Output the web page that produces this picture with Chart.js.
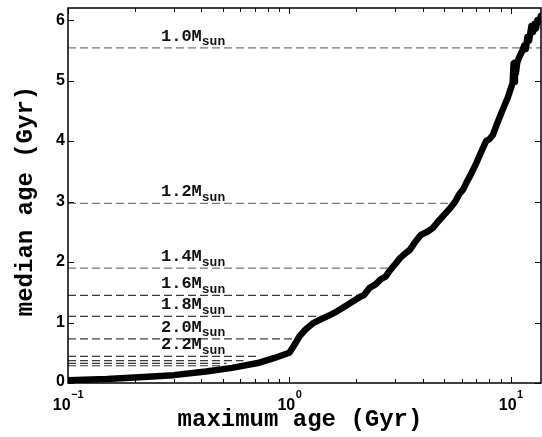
<!DOCTYPE html>
<html>
<head>
<meta charset="utf-8">
<script src="https://cdn.jsdelivr.net/npm/chart.js@4.4.0/dist/chart.umd.min.js"></script>
<style>
  html, body { margin: 0; padding: 0; background: #fff; }
</style>
</head>
<body>
<canvas id="ageChart" width="542" height="437"></canvas>
<script>
// median age vs maximum age (both Gyr)
const curveX = [0.1, 0.15, 0.2, 0.3, 0.42, 0.55, 0.72, 0.85, 1.0, 1.05, 1.11, 1.18, 1.28, 1.4, 1.52, 1.65, 1.81,
  2.0, 2.1, 2.17, 2.3, 2.45, 2.6, 2.72, 2.83, 3.0, 3.15, 3.33, 3.5, 3.7, 3.93, 4.2, 4.44, 4.7, 5.0, 5.3, 5.62,
  5.85, 6.1, 6.34, 6.65, 7.0, 7.35, 7.74, 8.0, 8.3, 8.7, 9.2, 9.7, 10.2, 10.3, 10.38, 10.45, 10.55, 10.7, 10.9,
  11.1, 11.3, 11.5, 11.7, 11.9, 12.1, 12.4, 12.6, 12.8, 13.0, 13.2, 13.45, 13.7];
const curveY = [0.045, 0.065, 0.09, 0.13, 0.19, 0.25, 0.33, 0.41, 0.5, 0.62, 0.77, 0.88, 0.99, 1.06, 1.12, 1.19, 1.28,
  1.38, 1.43, 1.45, 1.57, 1.63, 1.72, 1.76, 1.85, 1.96, 2.06, 2.14, 2.2, 2.33, 2.45, 2.5, 2.56, 2.67, 2.78, 2.88, 3.0,
  3.12, 3.2, 3.33, 3.47, 3.64, 3.82, 4.0, 4.03, 4.1, 4.3, 4.52, 4.72, 4.96, 5.28, 4.98, 5.3, 5.12, 5.3, 5.38,
  5.44, 5.5, 5.58, 5.52, 5.72, 5.66, 5.9, 5.8, 5.94, 5.86, 6.0, 5.98, 6.07];

// stellar mass reference lines
const massNames = ['1.0', '1.2', '1.4', '1.6', '1.8', '2.0', '2.2', '', '', ''];
const massLevels = [5.54, 2.97, 1.9, 1.45, 1.1, 0.73, 0.44, 0.37, 0.325, 0.285];
const massEnds = [13.7, 5.7, 2.95, 2.2, 1.5, 1.1, 0.72, 0.62, 0.52, 0.5];

const xTickPowers = [-1, 0, 1];
const yTicks = [0, 1, 2, 3, 4, 5, 6];

const X_MIN = 0.1, X_MAX = 13.7, Y_MIN = 0, Y_MAX = 6.2;

const datasets = [{
  label: 'median age',
  data: curveX.map((x, i) => ({ x: x, y: curveY[i] })),
  borderColor: '#000',
  borderWidth: 6.5,
  borderCapStyle: 'round',
  borderJoinStyle: 'round',
  pointRadius: 0,
  tension: 0,
  order: 0
}];
massLevels.forEach((lvl, i) => {
  datasets.push({
    label: massNames[i] + 'Msun',
    data: [{ x: X_MIN, y: lvl }, { x: massEnds[i], y: lvl }],
    borderColor: i < 3 ? '#7a7a7a' : '#3a3a3a',
    borderWidth: 1.2,
    borderDash: [8, 4],
    pointRadius: 0,
    order: 1
  });
});

// frame, inward ticks, tick labels, mass labels, axis titles
const decorPlugin = {
  id: 'decor',
  afterDatasetsDraw(chart) {
    const ctx = chart.ctx;
    const ys = chart.scales.y;
    ctx.save();
    ctx.fillStyle = '#111';
    ctx.textBaseline = 'alphabetic';
    ctx.textAlign = 'left';
    massLevels.forEach((lvl, i) => {
      if (!massNames[i]) return;
      const py = ys.getPixelForValue(lvl);
      const x0 = 161;
      ctx.font = 'bold 17px "Liberation Mono"';
      const main = massNames[i] + 'M';
      ctx.fillText(main, x0, py - 7);
      const w = ctx.measureText(main).width;
      ctx.font = 'bold 13px "Liberation Mono"';
      ctx.fillText('sun', x0 + w, py - 2.5);
    });
    ctx.restore();
  },
  afterDraw(chart) {
    const ctx = chart.ctx;
    const a = chart.chartArea;
    const xs = chart.scales.x, ys = chart.scales.y;
    ctx.save();
    ctx.strokeStyle = '#000';
    ctx.lineWidth = 1.5;
    ctx.strokeRect(a.left, a.top, a.right - a.left, a.bottom - a.top);

    ctx.lineWidth = 1;
    ctx.beginPath();
    xTickPowers.forEach(p => {
      for (let k = 1; k <= 9; k++) {
        const v = k * Math.pow(10, p);
        if (v < X_MIN || v > X_MAX) continue;
        const px = Math.round(xs.getPixelForValue(v)) + 0.5;
        const len = k === 1 ? 6 : 4;
        ctx.moveTo(px, a.bottom); ctx.lineTo(px, a.bottom - len);
        ctx.moveTo(px, a.top); ctx.lineTo(px, a.top + len);
      }
    });
    yTicks.forEach(v => {
      const py = Math.round(ys.getPixelForValue(v)) + 0.5;
      ctx.moveTo(a.left, py); ctx.lineTo(a.left + 6, py);
      ctx.moveTo(a.right, py); ctx.lineTo(a.right - 6, py);
    });
    ctx.stroke();

    // tick labels
    ctx.fillStyle = '#000';
    ctx.textAlign = 'right';
    ctx.textBaseline = 'middle';
    ctx.font = 'bold 16px "Liberation Sans"';
    yTicks.forEach(v => {
      ctx.fillText(String(v), a.left - 3, ys.getPixelForValue(v) + (v === 0 ? -1 : 0));
    });
    ctx.textAlign = 'left';
    ctx.textBaseline = 'alphabetic';
    xTickPowers.forEach(p => {
      const px = xs.getPixelForValue(Math.pow(10, p));
      const base = '10', sup = p < 0 ? '\u2212' + (-p) : String(p);
      ctx.font = 'bold 16px "Liberation Sans"';
      const wb = ctx.measureText(base).width;
      ctx.font = 'bold 11px "Liberation Sans"';
      const ws = ctx.measureText(sup).width;
      const x0 = px - (wb + ws) / 2;
      ctx.font = 'bold 16px "Liberation Sans"';
      ctx.fillText(base, x0, 410);
      ctx.font = 'bold 11px "Liberation Sans"';
      ctx.fillText(sup, x0 + wb + 0.5, 398);
    });

    // axis titles
    ctx.font = 'bold 24px "Liberation Mono"';
    ctx.textAlign = 'center';
    ctx.fillText('maximum age (Gyr)', 300, 426);
    ctx.translate(32, 201);
    ctx.rotate(-Math.PI / 2);
    ctx.fillText('median age (Gyr)', 0, 0);
    ctx.restore();
  }
};

new Chart(document.getElementById('ageChart').getContext('2d'), {
  type: 'line',
  data: { datasets: datasets },
  options: {
    responsive: false,
    animation: false,
    devicePixelRatio: 1,
    layout: { padding: { top: 8, right: 1, left: 0, bottom: 0 } },
    plugins: { legend: { display: false }, tooltip: { enabled: false } },
    scales: {
      x: {
        type: 'logarithmic', min: X_MIN, max: X_MAX,
        ticks: { display: false }, grid: { display: false }, border: { display: false },
        afterFit: s => { s.height = 54; }
      },
      y: {
        type: 'linear', min: Y_MIN, max: Y_MAX,
        ticks: { display: false }, grid: { display: false }, border: { display: false },
        afterFit: s => { s.width = 68; }
      }
    }
  },
  plugins: [decorPlugin]
});
</script>
</body>
</html>
